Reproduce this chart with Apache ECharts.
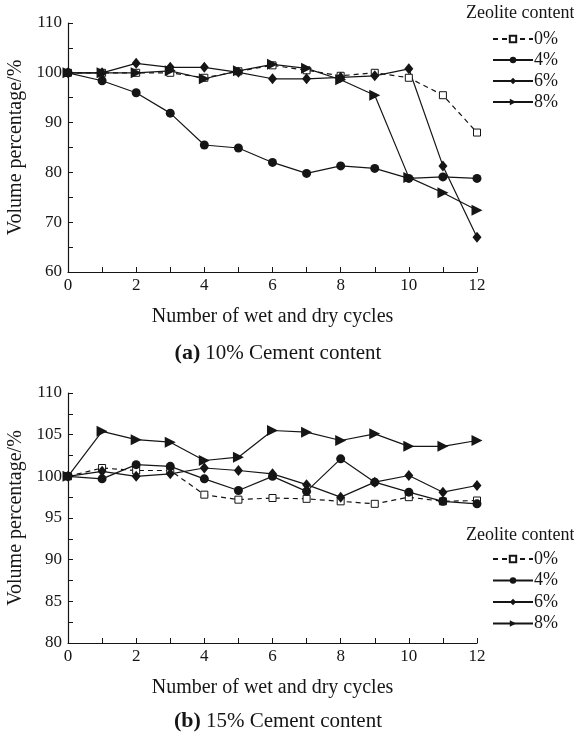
<!DOCTYPE html>
<html>
<head>
<meta charset="utf-8">
<style>
  html, body { margin: 0; padding: 0; background: #fff; }
  #chart { width: 574px; height: 736px; }
</style>
<script src="https://cdn.jsdelivr.net/npm/echarts@6/dist/echarts.min.js"></script>
</head>
<body>
<div id="chart"></div>
<script>
// Wet-dry cycle counts (x axis)
const cycles = [0, 1, 2, 3, 4, 5, 6, 7, 8, 9, 10, 11, 12];
const seriesNames = ['0%', '4%', '6%', '8%'];

// (a) 10% cement content: volume percentage per zeolite content
const a_z0 = [100, 100, 100, 100, 99.0, 100.3, 101.5, 100.5, 99.4, 100.0, 99.0, 95.5, 88.0];
const a_z4 = [100, 98.4, 96.0, 91.9, 85.5, 84.9, 82.0, 79.8, 81.3, 80.8, 78.8, 79.1, 78.8];
const a_z6 = [100, 100, 101.9, 101.1, 101.1, 100.1, 98.8, 98.8, 99.1, 99.4, 100.8, 81.3, 67.0];
const a_z8 = [100, 100, 100, 100.4, 98.8, 100.4, 101.7, 100.9, 98.6, 95.5, 79.0, 75.9, 72.4];

// (b) 15% cement content
const b_z0 = [100, 101.0, 100.7, 100.7, 97.8, 97.2, 97.4, 97.3, 97.0, 96.7, 97.5, 97.0, 97.1];
const b_z4 = [100, 99.7, 101.4, 101.2, 99.7, 98.3, 100.0, 98.2, 102.1, 99.3, 98.1, 97.0, 96.7];
const b_z6 = [100, 100.6, 100.0, 100.3, 101.0, 100.7, 100.3, 99.0, 97.5, 99.3, 100.1, 98.1, 98.9];
const b_z8 = [100, 105.4, 104.4, 104.1, 101.9, 102.3, 105.5, 105.3, 104.3, 105.1, 103.6, 103.6, 104.3];

const INK = '#151515';
const FONT = '"Liberation Serif", "DejaVu Serif", serif';

function pairs(ys) { return cycles.map((x, i) => [x, ys[i]]); }

const styleFor = {
  '0%': { symbol: 'rect', symbolSize: 7, symbolRotate: 0, dashed: true, fill: '#fff' },
  '4%': { symbol: 'circle', symbolSize: 9, symbolRotate: 0, dashed: false, fill: INK },
  '6%': { symbol: 'diamond', symbolSize: [9, 11], symbolRotate: 0, dashed: false, fill: INK },
  '8%': { symbol: 'triangle', symbolSize: [11, 11], symbolRotate: -90, dashed: false, fill: INK }
};

function makeSeries(name, ys, gi) {
  const s = styleFor[name];
  return {
    name: name,
    type: 'line',
    xAxisIndex: gi,
    yAxisIndex: gi,
    data: pairs(ys),
    symbol: s.symbol,
    symbolSize: s.symbolSize,
    symbolRotate: s.symbolRotate,
    showAllSymbol: true,
    animation: false,
    lineStyle: { color: INK, width: 1.2, type: s.dashed ? [5, 4] : 'solid' },
    itemStyle: { color: s.fill, borderColor: INK, borderWidth: s.dashed ? 1 : 0 },
    z: 3
  };
}

function xAxisFor(gi) {
  return {
    type: 'value', gridIndex: gi, min: 0, max: 12, interval: 1,
    name: 'Number of wet and dry cycles', nameLocation: 'middle', nameGap: 35,
    nameTextStyle: { fontFamily: FONT, fontSize: 20, color: INK },
    axisLine: { show: true, onZero: false, lineStyle: { color: INK, width: 1.2 } },
    axisTick: { show: true, inside: true, length: 5, lineStyle: { color: INK, width: 1 } },
    axisLabel: {
      fontFamily: FONT, fontSize: 17, color: INK, margin: 5,
      formatter: v => (v % 2 === 0 ? String(v) : '')
    },
    splitLine: { show: false }
  };
}

function yAxisFor(gi, min, max, step, labelStep) {
  return {
    type: 'value', gridIndex: gi, min: min, max: max, interval: step,
    name: 'Volume percentage/%', nameLocation: 'middle', nameGap: 37, nameRotate: 90,
    nameTextStyle: { fontFamily: FONT, fontSize: 20, color: INK },
    axisLine: { show: true, onZero: false, lineStyle: { color: INK, width: 1.2 } },
    axisTick: { show: true, inside: true, length: 5, lineStyle: { color: INK, width: 1 } },
    axisLabel: {
      fontFamily: FONT, fontSize: 17, color: INK, margin: 6,
      formatter: v => (Math.abs(v % labelStep) < 1e-6 ? String(v) : '')
    },
    splitLine: { show: false }
  };
}

function legendFor(top, gap) {
  return {
    orient: 'vertical', left: 487, top: top,
    itemWidth: 40, itemHeight: 8, itemGap: gap,
    selectedMode: false,
    textStyle: { fontFamily: FONT, fontSize: 18, color: INK, padding: [0, 0, 0, -4], lineHeight: 18 },
    data: seriesNames
  };
}

function subtitle(tag, text, top) {
  return {
    text: '{b|' + tag + '} {n|' + text + '}',
    left: 273, top: top, textAlign: 'center',
    textStyle: {
      fontWeight: 'normal',
      rich: {
        b: { fontFamily: FONT, fontSize: 22, fontWeight: 'bold', color: INK },
        n: { fontFamily: FONT, fontSize: 21, fontWeight: 'normal', color: INK }
      }
    }
  };
}

const chart = echarts.init(document.getElementById('chart'), null, { renderer: 'canvas' });
chart.setOption({
  backgroundColor: '#fff',
  animation: false,
  title: [subtitle('(a)', '10% Cement content', 337), subtitle('(b)', '15% Cement content', 705)],
  grid: [
    { left: 68, top: 23, width: 409, height: 249, containLabel: false, outerBoundsMode: 'none' },
    { left: 68, top: 393, width: 409, height: 250, containLabel: false, outerBoundsMode: 'none' }
  ],
  xAxis: [xAxisFor(0), xAxisFor(1)],
  yAxis: [yAxisFor(0, 60, 110, 5, 10), yAxisFor(1, 80, 110, 2.5, 5)],
  legend: [legendFor(25, 3), legendFor(545, 3.5)],
  graphic: [
    { type: 'text', left: 466, top: 4, style: { text: 'Zeolite content', font: '18px ' + FONT, fill: INK } },
    { type: 'text', left: 466, top: 526, style: { text: 'Zeolite content', font: '18px ' + FONT, fill: INK } }
  ],
  series: [
    makeSeries('0%', a_z0, 0), makeSeries('4%', a_z4, 0), makeSeries('6%', a_z6, 0), makeSeries('8%', a_z8, 0),
    makeSeries('0%', b_z0, 1), makeSeries('4%', b_z4, 1), makeSeries('6%', b_z6, 1), makeSeries('8%', b_z8, 1)
  ]
});
</script>
</body>
</html>
